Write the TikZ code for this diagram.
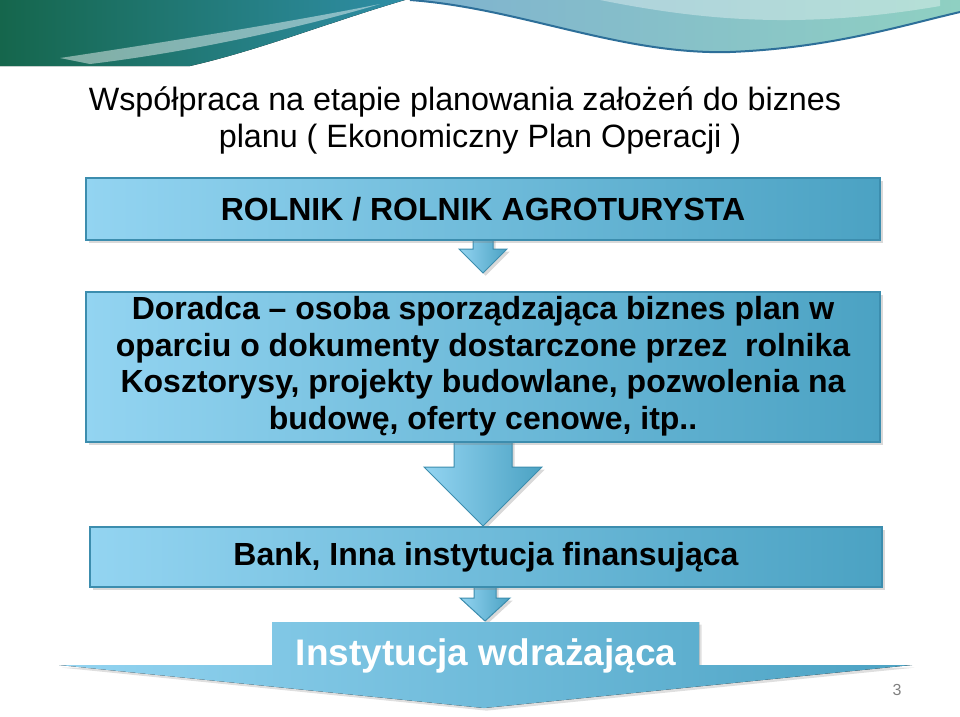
\documentclass[tikz,border=0pt]{standalone}
\usepackage{fontspec}
\setmainfont{Liberation Sans}
\usetikzlibrary{calc,shadows}

\definecolor{boxleft}{HTML}{93D4F1}
\definecolor{boxright}{HTML}{4BA2C3}
\definecolor{boxline}{HTML}{3C8DAE}
\definecolor{leafdark}{HTML}{15664C}
\definecolor{leafteal}{HTML}{2F8EA6}
\definecolor{wavel}{HTML}{7FB2CF}
\definecolor{waver}{HTML}{8FD0C2}
\definecolor{waveedge}{HTML}{2D6F99}

\begin{document}
\begin{tikzpicture}[x=1pt,y=-1pt,
    stagebox/.style={rectangle, draw=boxline, line width=1.5pt, left color=boxleft, right color=boxright,
      drop shadow={opacity=0.3}, inner sep=0pt, align=center,
      font=\fontsize{32}{36.5}\selectfont\bfseries},
    stagearrow/.style={draw=boxline, line width=1pt, left color=boxleft, right color=boxright,
      drop shadow={opacity=0.3}}]

      \useasboundingbox (0,0) rectangle (960,716);

      % banner at the top
      \fill[left color=leafdark, right color=leafteal] (0,0) -- (405,0) .. controls (330,22) and (260,50) .. (190,66) -- (0,66) -- cycle;
      \fill[white, opacity=0.45] (60,58) .. controls (180,40) and (300,20) .. (380,4) .. controls (300,28) and (190,52) .. (90,64) -- cycle;
      \fill[left color=wavel, right color=waver] (410,0) .. controls (520,8) and (620,55) .. (730,52) .. controls (830,48) and (900,26) .. (960,12) -- (960,0) -- cycle;
      \fill[white, opacity=0.35] (600,0) .. controls (700,20) and (800,30) .. (940,6) -- (940,0) -- cycle;
      \draw[waveedge, line width=2pt] (410,0) .. controls (520,8) and (620,55) .. (730,52) .. controls (830,48) and (900,26) .. (960,12);

      % title
      \node[anchor=base, font=\fontsize{32.3}{37}\selectfont] (title1) at (465,110) {Współpraca na etapie planowania założeń do biznes};
      \node[anchor=base, font=\fontsize{32.3}{37}\selectfont] (title2) at (480,147) {planu ( Ekonomiczny Plan Operacji )};

      % arrows first, boxes drawn over them
      \draw[stagearrow] ($(483,240)+(-10,-3)$) -- ++(0,12) -- ++(-14,0) -- (483,273) -- (507,249) -- ++(-14,0) -- ++(0,-12) -- cycle;
      \draw[stagearrow] ($(483,442)+(-29,-3)$) -- ++(0,28) -- ++(-30,0) -- (483,526) -- (542,467) -- ++(-30,0) -- ++(0,-28) -- cycle;
      \draw[stagearrow] ($(485,587)+(-11,-3)$) -- ++(0,14) -- ++(-14,0) -- (485,621) -- (510,598) -- ++(-14,0) -- ++(0,-14) -- cycle;

      \node[stagebox, minimum width=794pt, minimum height=62pt] (rolnik) at (483,209) {ROLNIK / ROLNIK AGROTURYSTA};
      \node[stagebox, minimum width=794pt, minimum height=150pt] (doradca) at (483,367)
        {\raisebox{-3pt}{\begin{tabular}{@{}c@{}}Doradca -- osoba sporządzająca biznes plan w\\oparciu o dokumenty dostarczone przez\ \ rolnika\\Kosztorysy, projekty budowlane, pozwolenia na\\budowę, oferty cenowe, itp..\end{tabular}}};
      \node[stagebox, minimum width=792pt, minimum height=60pt] (bank) at (486,557) {Bank, Inna instytucja finansująca};

      % wide arrow at the bottom
      \fill[left color=boxleft, right color=boxright, drop shadow={opacity=0.25}] (272,622) -- (699,622) -- (699,665) -- (912,665) -- (484,708) -- (59,665) -- (272,665) -- cycle;
      \node[white, font=\fontsize{37}{40}\selectfont\bfseries] (wdrazajaca) at (486,656) {Instytucja wdrażająca};

      \node[gray, font=\fontsize{16}{18}\selectfont] (pagenum) at (897,690) {3};
\end{tikzpicture}
\end{document}
